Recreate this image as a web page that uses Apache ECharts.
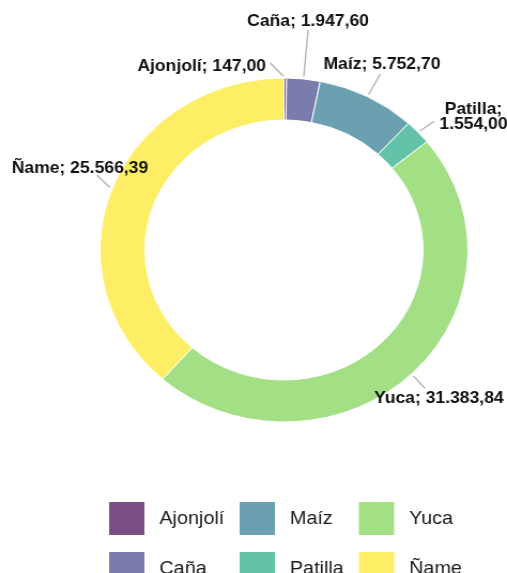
<!DOCTYPE html>
<html>
<head>
<meta charset="utf-8">
<script src="https://cdn.jsdelivr.net/npm/echarts@6/dist/echarts.min.js"></script>
<style>
html,body{margin:0;padding:0;background:#fff;overflow:hidden;width:507px;height:573px;}
#c{width:474px;height:573px;transform:scaleX(1.06962);transform-origin:0 0;}
</style>
</head>
<body>
<div id="c"></div>
<script>
// ---- data ----
const categories = ['Ajonjolí', 'Caña', 'Maíz', 'Patilla', 'Yuca', 'Ñame'];
const values = [147.00, 1947.60, 5752.70, 1554.00, 31383.84, 25566.39];
const legendColumns = [categories.slice(0, 2), categories.slice(2, 4), categories.slice(4, 6)];

// ---- styles ----
const colors = ['#7c4d87', '#7a7cab', '#6aa0b0', '#64c2a9', '#a2df85', '#feee66'];
const labelPlacement = [
  {line: [-14, -15], text: [-4, 3.5], align: 'right'},
  {line: [4.3, -49], text: [0, -8], align: 'center'},
  {line: [12, -22.7], text: [1.6, -9.5], align: 'center'},
  {line: [15, -11], text: [36.8, -4.2], align: 'center', wrap: true},
  {line: [12.7, 14.2], text: [12.9, 10], align: 'center'},
  {line: [-14, -14], text: [-15.8, -6.8], align: 'center'}
];
const legendLefts = [100, 222, 333.5];
const FONT = '"Liberation Sans", Arial, Helvetica, sans-serif';

function fmt(v) {
  const parts = v.toFixed(2).split('.');
  const intPart = parts[0].replace(/\B(?=(\d{3})+(?!\d))/g, '.');
  return intPart + ',' + parts[1];
}

const chart = echarts.init(document.getElementById('c'), null, {renderer: 'canvas'});

const legends = legendColumns.map((col, k) => ({
  type: 'plain',
  orient: 'vertical',
  left: legendLefts[k],
  top: 500,
  width: 120,
  height: 120,
  padding: 0,
  itemWidth: 35,
  itemHeight: 35,
  itemGap: 13,
  icon: 'rect',
  selectedMode: false,
  data: col,
  textStyle: {fontFamily: FONT, fontSize: 18.5, color: '#1a1a1a', padding: [0, 0, 0, 8]}
}));

chart.setOption({
  animation: false,
  color: colors,
  legend: legends,
  series: [{
    type: 'pie',
    center: [265.5, 250],
    radius: [130, 172],
    startAngle: 90,
    clockwise: true,
    avoidLabelOverlap: false,
    emphasis: {disabled: true},
    itemStyle: {borderColor: '#ffffff', borderWidth: 1},
    label: {
      show: true,
      position: 'outside',
      fontFamily: FONT,
      fontSize: 16.4,
      fontWeight: 'bold',
      color: '#111111',
      lineHeight: 15,
      formatter: p => {
        const sep = labelPlacement[p.dataIndex].wrap ? ';\n' : '; ';
        return p.name + sep + fmt(p.value);
      }
    },
    labelLine: {show: true, length: 10, length2: 1, lineStyle: {color: '#b3b3b3', width: 1.4}},
    labelLayout: function (params) {
      const cfg = labelPlacement[params.dataIndex];
      const a = params.labelLinePoints[0];
      const len = Math.hypot(cfg.line[0], cfg.line[1]);
      const gap = 2.5;
      const sx = a[0] + cfg.line[0] / len * gap;
      const sy = a[1] + cfg.line[1] / len * gap;
      const ex = a[0] + cfg.line[0];
      const ey = a[1] + cfg.line[1];
      return {
        x: ex + cfg.text[0],
        y: ey + cfg.text[1],
        align: cfg.align,
        verticalAlign: 'middle',
        labelLinePoints: [[sx, sy], [ex, ey]]
      };
    },
    data: categories.map((name, i) => ({name: name, value: values[i]}))
  }]
});
</script>
</body>
</html>
